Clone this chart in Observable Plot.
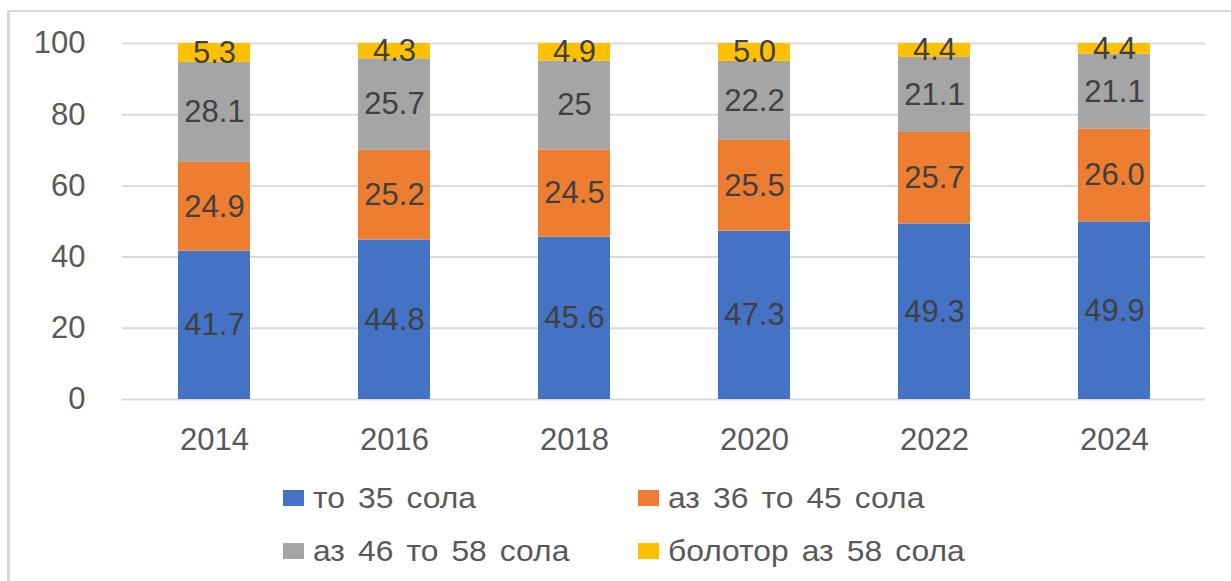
<!DOCTYPE html>
<html>
<head>
<meta charset="utf-8">
<script src="https://cdn.jsdelivr.net/npm/d3@7"></script>
<script src="https://cdn.jsdelivr.net/npm/@observablehq/plot@0.6"></script>
<style>
  html, body { margin: 0; padding: 0; background: #fff; }
  #wrap { position: relative; width: 1231px; height: 581px; overflow: hidden; font-family: "Liberation Sans", Arial, sans-serif; }
  #frame { position: absolute; left: 7px; top: 10px; width: 1300px; height: 700px; border-left: 3px solid #d9d9d9; border-top: 2px solid #d9d9d9; box-sizing: border-box; }
  #chart { position: absolute; left: 0; top: 0; }
  .leg { position: absolute; height: 36px; }
  .leg .sw { position: absolute; left: 0; top: 10px; width: 21px; height: 16px; }
  .leg .tx { position: absolute; top: 0; line-height: 36px; font-size: 30px; word-spacing: 4px; color: #595959; white-space: nowrap; transform: scaleX(1.06); transform-origin: left center; }
</style>
</head>
<body>
<div id="wrap">
  <div id="frame"></div>
  <div id="chart"></div>
  <div id="legend"></div>
</div>
<script>
const years = ["2014", "2016", "2018", "2020", "2022", "2024"];
const seriesNames = ["то 35 сола", "аз 36 то 45 сола", "аз 46 то 58 сола", "болотор аз 58 сола"];
const under35   = ["41.7", "44.8", "45.6", "47.3", "49.3", "49.9"];
const from36to45 = ["24.9", "25.2", "24.5", "25.5", "25.7", "26.0"];
const from46to58 = ["28.1", "25.7", "25", "22.2", "21.1", "21.1"];
const over58    = ["5.3", "4.3", "4.9", "5.0", "4.4", "4.4"];
const yTicks = [0, 20, 40, 60, 80, 100];
const colors = ["#4472C4", "#ED7D31", "#A5A5A5", "#FFC000"];

const seriesValues = [under35, from36to45, from46to58, over58];
const yMax = 100;

const rows = [];
years.forEach((year, i) => {
  let cum = 0;
  seriesValues.forEach((arr, s) => {
    const v = Number(arr[i]);
    const y1 = cum, y2 = cum + v;
    cum = y2;
    rows.push({year, series: seriesNames[s], label: arr[i], y1, y2, ymid: (y1 + Math.min(y2, yMax)) / 2});
  });
});

const chart = Plot.plot({
  width: 1231,
  height: 460,
  marginLeft: 122,
  marginRight: 26,
  marginTop: 43,
  marginBottom: 61,
  style: {fontFamily: "'Liberation Sans', Arial, sans-serif", background: "transparent", overflow: "visible"},
  x: {domain: years, padding: 0, label: null},
  y: {domain: [0, yMax], label: null},
  color: {domain: seriesNames, range: colors},
  marks: [
    Plot.gridY(yTicks, {stroke: "#d9d9d9", strokeOpacity: 1, strokeWidth: 2}),
    Plot.rectY(rows, {x: "year", y1: "y1", y2: "y2", fill: "series", insetLeft: 54, insetRight: 54, clip: true}),
    Plot.text(rows, {x: "year", y: "ymid", text: "label", fill: "#404040", fontSize: 31}),
    Plot.axisY(yTicks, {tickSize: 0, tickPadding: 37, fontSize: 31, fill: "#595959", label: null}),
    Plot.axisX(years, {tickSize: 0, tickPadding: 28, fontSize: 31, fill: "#595959", label: null})
  ]
});
document.getElementById("chart").appendChild(chart);

// legend
const legendPos = [
  {x: 283, y: 498}, {x: 638, y: 498},
  {x: 283, y: 551}, {x: 638, y: 551}
];
const legend = document.getElementById("legend");
seriesNames.forEach((name, i) => {
  const el = document.createElement("div");
  el.className = "leg";
  el.style.left = legendPos[i].x + "px";
  el.style.top = (legendPos[i].y - 18) + "px";
  const sw = document.createElement("span");
  sw.className = "sw";
  sw.style.background = colors[i];
  const tx = document.createElement("span");
  tx.className = "tx";
  tx.style.left = "30px";
  tx.textContent = name;
  el.appendChild(sw);
  el.appendChild(tx);
  legend.appendChild(el);
});
</script>
</body>
</html>
